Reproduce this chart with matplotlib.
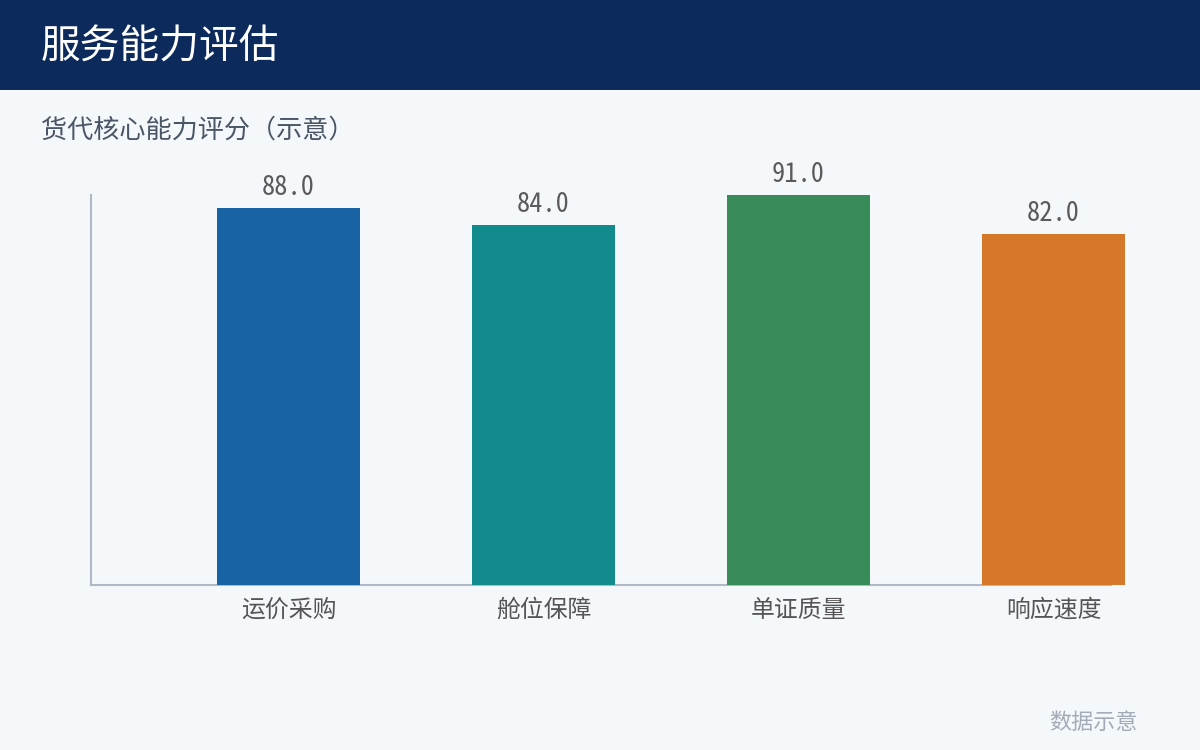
import matplotlib
matplotlib.use("Agg")
import matplotlib.pyplot as plt
from matplotlib.patches import Rectangle

plt.rcParams['font.family'] = ['Noto Sans CJK SC', 'DejaVu Sans']

title = "服务能力评估"
subtitle = "货代核心能力评分（示意）"
footnote = "数据示意"
categories = ["运价采购", "舱位保障", "单证质量", "响应速度"]
values = [88.0, 84.0, 91.0, 82.0]
colors = ["#1763a3", "#128b8e", "#3a8b5a", "#d6782a"]

W, H = 1200, 750
fig = plt.figure(figsize=(12, 7.5), dpi=100)
fig.patch.set_facecolor("#f5f8fb")

# header band
fig.patches.append(Rectangle((0, 1 - 90 / H), 1, 90 / H, transform=fig.transFigure,
                             facecolor="#0c2a5b", edgecolor="none", zorder=0))
fig.text(41 / W, 1 - 48 / H, title, color="white", fontsize=28.6, va="center", ha="left")
fig.text(41 / W, 1 - 130 / H, subtitle, color="#4a5565", fontsize=18.8, va="center", ha="left")
fig.text(1138 / W, 1 - 723 / H, footnote, color="#a3abb6", fontsize=15.9, va="center", ha="right")

ax = fig.add_axes([91 / W, 165 / H, (1111 - 91) / W, (585 - 195) / H])
ax.set_facecolor("none")
x = list(range(len(categories)))
bars = ax.bar(x, values, width=0.56, color=colors, zorder=3, clip_on=False)
ax.set_xlim(-0.7745, 3.2255)
ax.set_ylim(0, max(values))
for xi, v in zip(x, values):
    ax.annotate(f"{v:.1f}", (xi, v), xytext=(0, 5), textcoords="offset points",
                ha="center", va="bottom", fontsize=19, color="#5a5a5a", annotation_clip=False,
                family=['Noto Sans Mono CJK SC', 'Noto Sans CJK SC', 'DejaVu Sans'])

for s in ["top", "right"]:
    ax.spines[s].set_visible(False)
for s in ["left", "bottom"]:
    ax.spines[s].set_color("#b0bac6")
    ax.spines[s].set_linewidth(1.5)
ax.set_yticks([])
ax.set_xticks(x)
ax.set_xticklabels(categories, fontsize=17.2, color="#555555")
ax.tick_params(axis="x", length=0, pad=10)

fig.savefig("out.png", dpi=100, facecolor=fig.get_facecolor())
